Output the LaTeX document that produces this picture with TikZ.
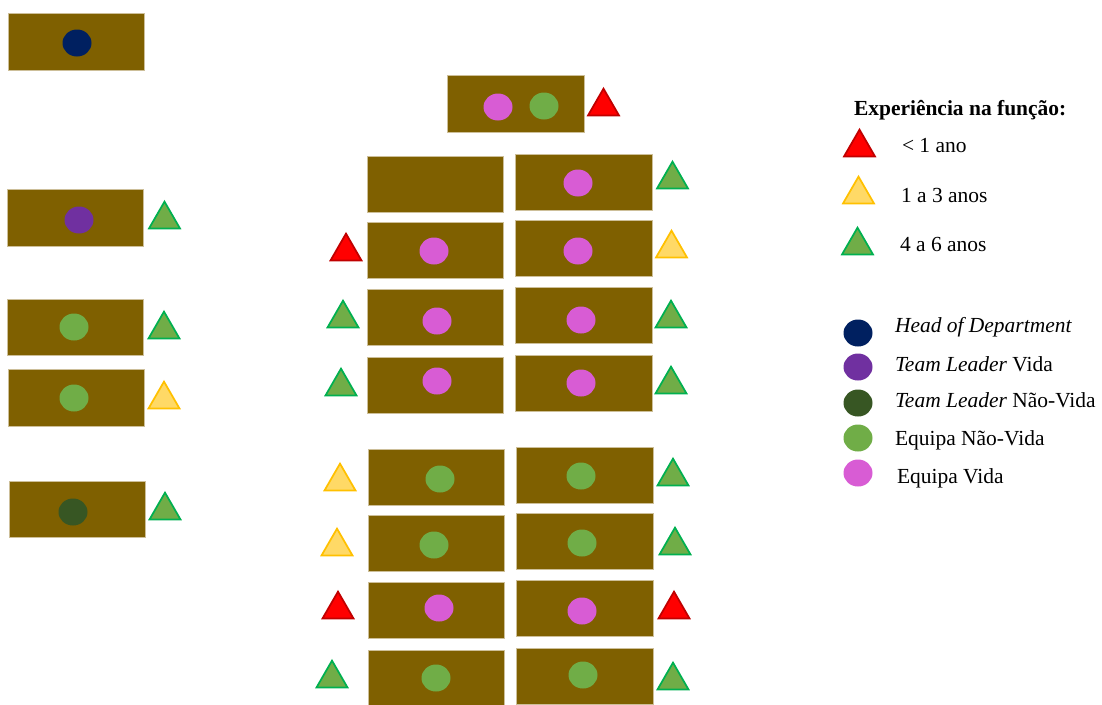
\documentclass[tikz,border=0pt]{standalone}
\usepackage{fontspec}
\setmainfont{Liberation Serif}
\usetikzlibrary{shapes.geometric}
\definecolor{deskc}{HTML}{7F6000}
\definecolor{deskb}{HTML}{CDBF99}
\definecolor{cnavy}{HTML}{002060}
\definecolor{cpurple}{HTML}{7030A0}
\definecolor{cdkgreen}{HTML}{375623}
\definecolor{cgreen}{HTML}{70AD47}
\definecolor{cpink}{HTML}{D85CD4}
\definecolor{tredf}{HTML}{FF0000}
\definecolor{tredd}{HTML}{C00000}
\definecolor{tyelf}{HTML}{FFD966}
\definecolor{tyeld}{HTML}{FFC000}
\definecolor{tgrnf}{HTML}{70AD47}
\definecolor{tgrnd}{HTML}{00B050}
\begin{document}
\begin{tikzpicture}[x=0.75pt,y=-0.75pt,
  desk/.style={rectangle,fill=deskc,draw=deskb,line width=0.5pt,minimum width=102.3pt,minimum height=42.3pt,inner sep=0pt,outer sep=0pt},
  dot/.style={ellipse,fill=#1,minimum width=21.75pt,minimum height=20.25pt,inner sep=0pt,outer sep=0pt},
  tri/.style={regular polygon,regular polygon sides=3,inner sep=0pt,outer sep=0pt,minimum size=26.8pt,line width=1.3pt},
  tred/.style={tri,fill=tredf,draw=tredd},
  tyel/.style={tri,fill=tyelf,draw=tyeld},
  tgrn/.style={tri,fill=tgrnf,draw=tgrnd},
  lab/.style={anchor=base west,inner sep=0pt,outer sep=0pt,font=\fontsize{16.1}{19}\selectfont}]
\useasboundingbox (0,0) rectangle (1102,704);

% left column
\node[desk] (dl1) at (76.5,42) {};
\node[desk] (dl2) at (75.5,218) {};
\node[desk] (dl3) at (75.5,327.5) {};
\node[desk] (dl4) at (76.5,398) {};
\node[desk] (dl5) at (77.5,509.5) {};
\node[dot=cnavy] (cl1) at (77,43) {};
\node[dot=cpurple] (cl2) at (79,220) {};
\node[dot=cgreen] (cl3) at (74,327) {};
\node[dot=cgreen] (cl4) at (74,398) {};
\node[dot=cdkgreen] (cl5) at (73,512) {};
\node[tgrn] (tl2) at (164.5,219.5) {};
\node[tgrn] (tl3) at (164,329.5) {};
\node[tyel] (tl4) at (164,399.5) {};
\node[tgrn] (tl5) at (165,510.5) {};

% top middle
\node[desk] (dt) at (516,104) {};
\node[dot=cpink] (ct1) at (498,107) {};
\node[dot=cgreen] (ct2) at (544,106) {};
\node[tred] (tt) at (603.5,106.5) {};

% middle block, upper group
\node[desk] (da1) at (435.5,184.5) {};
\node[desk] (db1) at (584,182.5) {};
\node[dot=cpink] (cb1) at (578,183) {};
\node[tgrn] (tb1) at (672.5,179.5) {};

\node[desk] (da2) at (435.5,250.5) {};
\node[desk] (db2) at (584,248.5) {};
\node[dot=cpink] (ca2) at (434,251) {};
\node[dot=cpink] (cb2) at (578,251) {};
\node[tred] (ta2) at (346,251.5) {};
\node[tyel] (tb2) at (671.5,248.5) {};

\node[desk] (da3) at (435.5,317.5) {};
\node[desk] (db3) at (584,315.5) {};
\node[dot=cpink] (ca3) at (437,321) {};
\node[dot=cpink] (cb3) at (581,320) {};
\node[tgrn] (ta3) at (343,318.5) {};
\node[tgrn] (tb3) at (671,318.5) {};

\node[desk] (da4) at (435.5,385.5) {};
\node[desk] (db4) at (584,383.5) {};
\node[dot=cpink] (ca4) at (437,381) {};
\node[dot=cpink] (cb4) at (581,383) {};
\node[tgrn] (ta4) at (341,386.5) {};
\node[tgrn] (tb4) at (671,384.5) {};

% middle block, lower group
\node[desk] (da5) at (436.5,477.5) {};
\node[desk] (db5) at (585,475.5) {};
\node[dot=cgreen] (ca5) at (440,479) {};
\node[dot=cgreen] (cb5) at (581,476) {};
\node[tyel] (ta5) at (340,481.5) {};
\node[tgrn] (tb5) at (673,476.5) {};

\node[desk] (da6) at (436.5,543.5) {};
\node[desk] (db6) at (585,541.5) {};
\node[dot=cgreen] (ca6) at (434,545) {};
\node[dot=cgreen] (cb6) at (582,543) {};
\node[tyel] (ta6) at (337,546.5) {};
\node[tgrn] (tb6) at (675,545.5) {};

\node[desk] (da7) at (436.5,610.5) {};
\node[desk] (db7) at (585,608.5) {};
\node[dot=cpink] (ca7) at (439,608) {};
\node[dot=cpink] (cb7) at (582,611) {};
\node[tred] (ta7) at (338,609.5) {};
\node[tred] (tb7) at (674,609.5) {};

\node[desk] (da8) at (436.5,678.5) {};
\node[desk] (db8) at (585,676.5) {};
\node[dot=cgreen] (ca8) at (436,678) {};
\node[dot=cgreen] (cb8) at (583,675) {};
\node[tgrn] (ta8) at (332,678.5) {};
\node[tgrn] (tb8) at (673,680.5) {};

% legend
\node[lab,font=\fontsize{16.1}{19}\selectfont\bfseries] (ltitle) at (854,115) {Experiência na função:};
\node[tred] (lt1) at (859.5,147.5) {};
\node[tyel] (lt2) at (858.5,194.5) {};
\node[tgrn] (lt3) at (857.5,245.5) {};
\node[lab] (lx1) at (902,152) {< 1 ano};
\node[lab] (lx2) at (901,202) {1 a 3 anos};
\node[lab] (lx3) at (900,251) {4 a 6 anos};

\node[dot=cnavy] (lc1) at (858,333) {};
\node[dot=cpurple] (lc2) at (858,367) {};
\node[dot=cdkgreen] (lc3) at (858,403) {};
\node[dot=cgreen] (lc4) at (858,438) {};
\node[dot=cpink] (lc5) at (858,473) {};
\node[lab] (ly1) at (895,332) {\itshape Head of Department};
\node[lab] (ly2) at (895,371) {\textit{Team Leader} Vida};
\node[lab] (ly3) at (895,407) {\textit{Team Leader} Não-Vida};
\node[lab] (ly4) at (895,445) {Equipa Não-Vida};
\node[lab] (ly5) at (897,483) {Equipa Vida};
\end{tikzpicture}
\end{document}
